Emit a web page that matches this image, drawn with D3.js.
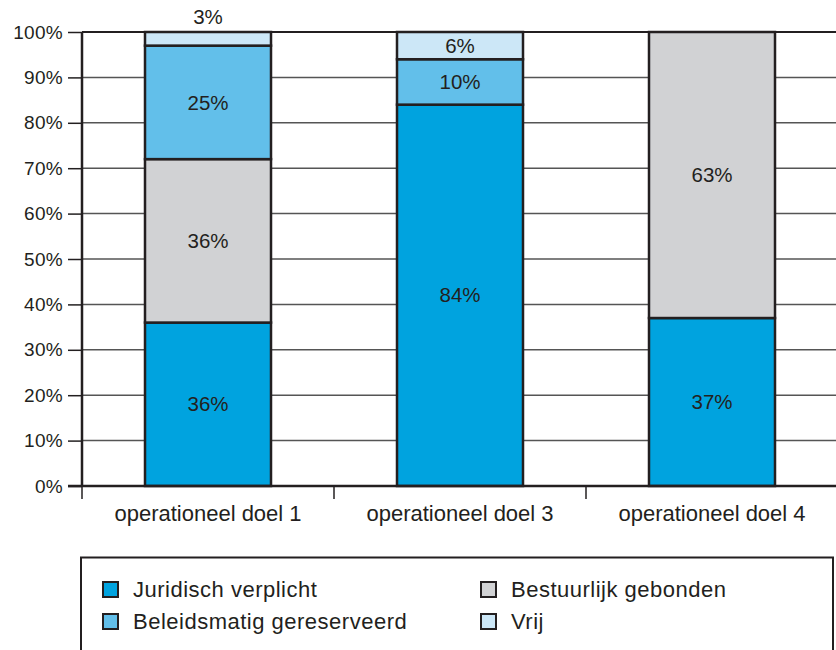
<!DOCTYPE html>
<html><head><meta charset="utf-8">
<script src="https://cdn.jsdelivr.net/npm/d3@7"></script>
<style>body{margin:0;background:#fff}svg{display:block}text{font-family:"Liberation Sans",Arial,sans-serif;fill:#231f20}</style>
</head><body><svg id="c" width="836" height="650"></svg>
<script>
const categories = ["operationeel doel 1","operationeel doel 3","operationeel doel 4"];
const seriesNames = ["Juridisch verplicht","Beleidsmatig gereserveerd","Bestuurlijk gebonden","Vrij"];
const stackOrder = ["Juridisch verplicht","Bestuurlijk gebonden","Beleidsmatig gereserveerd","Vrij"];
const juridisch = [36,84,37];
const beleidsmatig = [25,10,0];
const bestuurlijk = [36,0,63];
const vrij = [3,6,0];
const yTicks = [0,10,20,30,40,50,60,70,80,90,100];
const colors = {"Juridisch verplicht":"#00a3df","Beleidsmatig gereserveerd":"#62bfea","Bestuurlijk gebonden":"#d1d2d4","Vrij":"#cce7f7"};

const rows = categories.map((c,i)=>({cat:c,"Juridisch verplicht":juridisch[i],"Beleidsmatig gereserveerd":beleidsmatig[i],"Bestuurlijk gebonden":bestuurlijk[i],"Vrij":vrij[i]}));
const svg = d3.select("#c");
const x = d3.scaleBand().domain(categories).range([82,838]).paddingInner(0.5).paddingOuter(0.25);
const y = d3.scaleLinear().domain([0,100]).range([486,32]);
const dark = "#231f20";

// gridlines
svg.append("g").selectAll("line").data(yTicks.filter(t=>t>0)).join("line")
  .attr("x1",82).attr("x2",836).attr("y1",d=>y(d)).attr("y2",d=>y(d))
  .attr("stroke",d=>d===100?dark:"#555").attr("stroke-width",d=>d===100?2:1.5);

// y axis
const ya = svg.append("g").attr("transform","translate(82,0)")
  .call(d3.axisLeft(y).tickValues(yTicks).tickFormat(d=>d+"%").tickSize(14).tickPadding(5));
ya.select(".domain").remove();
ya.selectAll(".tick line").attr("stroke",dark).attr("stroke-width",1.5);
ya.selectAll(".tick text").attr("font-size",19).attr("letter-spacing",0.3).attr("fill",dark).attr("font-family","Liberation Sans, Arial, sans-serif");

// stacked bars
const stack = d3.stack().keys(stackOrder)(rows);
const g = svg.append("g");
stack.forEach(layer=>{
  layer.forEach(d=>{
    const v = d[1]-d[0];
    if(v<=0) return;
    g.append("rect").attr("x",x(d.data.cat)).attr("width",x.bandwidth())
      .attr("y",y(d[1])).attr("height",y(d[0])-y(d[1]))
      .attr("fill",colors[layer.key]).attr("stroke",dark).attr("stroke-width",2.5);
  });
});
stack.forEach(layer=>{
  layer.forEach(d=>{
    const v = d[1]-d[0];
    if(v<=0) return;
    const cx = x(d.data.cat)+x.bandwidth()/2;
    const cy = v<5 ? y(d[1])-15 : (y(d[0])+y(d[1]))/2;
    g.append("text").attr("x",cx).attr("y",cy).attr("dy","0.35em").attr("text-anchor","middle")
      .attr("font-size",20.5).text(v+"%");
  });
});

// axes lines
svg.append("line").attr("x1",82).attr("x2",82).attr("y1",32).attr("y2",486).attr("stroke",dark).attr("stroke-width",2.5);
svg.append("line").attr("x1",68).attr("x2",836).attr("y1",486).attr("y2",486).attr("stroke",dark).attr("stroke-width",2.5);
// x category separators
const seps = [82, ...categories.slice(0,-1).map(c=>x(c)+x.step()*0.75)];
svg.append("g").selectAll("line").data(seps).join("line")
  .attr("x1",d=>d).attr("x2",d=>d).attr("y1",486).attr("y2",499).attr("stroke",dark).attr("stroke-width",1.5);
svg.append("g").selectAll("text").data(categories).join("text")
  .attr("x",d=>x(d)+x.bandwidth()/2).attr("y",521).attr("text-anchor","middle").attr("font-size",22).text(d=>d);

// legend
svg.append("rect").attr("x",81).attr("y",557.5).attr("width",752).attr("height",100)
  .attr("fill","none").attr("stroke",dark).attr("stroke-width",2);
const legPos = [[102,589],[102,621],[480,589],[480,621]];
seriesNames.forEach((s,i)=>{
  const [lx,ly] = legPos[i];
  svg.append("rect").attr("x",lx+1).attr("y",ly-7).attr("width",15).attr("height",15)
    .attr("fill",colors[s]).attr("stroke",dark).attr("stroke-width",2);
  svg.append("text").attr("x",lx+31).attr("y",ly).attr("dy","0.35em").attr("font-size",22).attr("letter-spacing",0.5).text(s);
});
</script></body></html>
